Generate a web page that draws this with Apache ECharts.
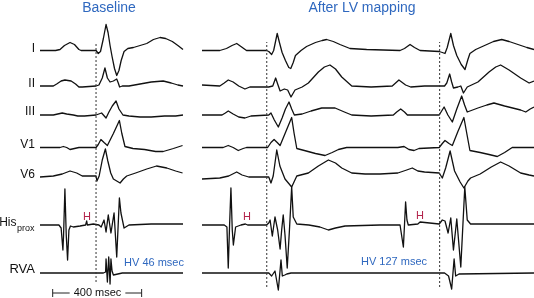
<!DOCTYPE html>
<html><head><meta charset="utf-8">
<script src="https://cdn.jsdelivr.net/npm/echarts@6/dist/echarts.min.js"></script>
<style>html,body{margin:0;padding:0;background:#fff}#c{width:534px;height:298px}</style>
</head><body><div id="c"></div>
<script>
// time in ms, amplitude in arbitrary units (1 unit ~ 1 px)
const leads = ['I','II','III','V1','V6','His','RVA'];

// Baseline panel (0..643 ms)
const baseI = [[0,0],[70,0],[90,1],[110,5],[135,8],[155,6],[175,1],[185,0],[252,0],[262,-3],[272,-1],[285,12],[297,26],[306,18],[315,5],[324,-6],[335,-18],[345,-25],[355,-20],[365,-10],[378,-1],[395,2],[420,3],[450,5],[480,7],[510,11],[540,13],[565,12],[595,9],[620,5],[643,1]];
const baseII = [[0,0],[60,0],[75,2],[95,5],[112,6],[140,5],[160,2],[175,-1],[190,-1],[252,0],[265,1],[280,8],[292,18],[303,8],[315,4],[330,5],[345,7],[352,3],[358,-1],[370,0],[400,0],[450,2],[500,4],[554,5],[590,3],[620,1],[643,0]];
const baseIII = [[0,0],[60,0],[80,1],[100,2],[120,1],[150,0],[170,-1],[200,-1],[252,0],[277,2],[297,-3],[310,3],[325,9],[342,14],[355,6],[373,0],[400,-1],[450,-2],[500,-2],[560,-1],[610,-1],[643,0]];
const baseV1 = [[0,0],[90,0],[105,1],[120,0],[135,-2],[155,-1],[175,0],[252,0],[262,3],[274,8],[288,5],[303,2],[330,14],[357,27],[368,14],[382,1],[418,-1],[470,-2],[520,-4],[554,-4],[600,-1],[641,2]];
const baseV6 = [[0,-1],[60,0],[100,2],[135,5],[165,3],[190,0],[252,0],[256,-5],[266,0],[280,16],[294,27],[305,15],[318,3],[330,-3],[360,-7],[375,-3],[390,0],[430,3],[480,7],[524,10],[570,8],[610,5],[641,3]];
const baseHis = [[0,0],[85,0],[95,-3],[103,-25],[106,-10],[112,36],[118,-10],[124,-35],[130,-5],[137,-1],[150,-2],[180,-1],[205,0],[210,4],[213,0],[240,1],[265,0],[275,-2],[288,5],[297,-7],[307,10],[319,-8],[333,12],[345,-32],[357,27],[364,12],[378,-3],[400,0],[500,1],[643,1]];
const baseRVA = [[0,0],[285,0],[295,1],[297,14],[303,-9],[309,16],[315,-11],[319,14],[324,2],[330,-2],[337,-4],[350,-1],[370,0],[643,0]];
const baseMarkers = [252];          // dotted line (QRS onset)
const baseHV = 'HV 46 msec';

// After LV mapping panel (0..1492 ms)
const lvI = [[0,0],[80,0],[110,2],[135,5],[156,7],[175,4],[200,0],[290,0],[300,-1],[313,-4],[322,0],[338,17],[348,8],[360,-2],[375,-10],[390,-17],[399,-18],[410,-12],[420,-5],[426,-3],[445,0],[470,4],[510,8],[540,10],[560,11],[590,9],[620,6],[665,2],[740,1],[890,0],[910,2],[935,6],[955,3],[980,0],[1066,-1],[1080,-2],[1092,-3],[1102,3],[1118,17],[1130,5],[1145,-5],[1165,-14],[1182,-19],[1195,-9],[1204,-3],[1230,1],[1270,5],[1310,9],[1347,11],[1380,9],[1420,6],[1460,3],[1492,1]];
const lvII = [[0,1],[80,0],[100,3],[118,6],[140,4],[165,0],[193,-3],[215,-1],[300,-1],[318,0],[331,8],[340,2],[351,-5],[370,-3],[385,-4],[400,-11],[418,-4],[450,-1],[478,3],[523,14],[550,19],[575,21],[600,17],[628,9],[673,0],[760,-1],[855,0],[870,3],[885,6],[915,1],[938,-1],[1000,0],[1090,0],[1100,3],[1113,12],[1122,4],[1130,-2],[1150,-1],[1163,0],[1175,-7],[1192,-1],[1240,4],[1290,14],[1320,19],[1342,21],[1380,16],[1432,8],[1470,3],[1492,5]];
const lvIII = [[0,0],[90,0],[105,2],[118,4],[140,1],[165,-2],[193,-3],[220,-1],[300,0],[310,2],[325,-5],[343,-12],[360,-3],[375,6],[391,13],[403,6],[415,0],[450,1],[490,4],[538,7],[598,7],[640,3],[673,0],[760,-1],[860,0],[875,3],[893,6],[910,3],[923,0],[1066,0],[1088,8],[1105,0],[1125,-7],[1145,6],[1167,19],[1180,10],[1192,3],[1240,7],[1280,10],[1312,12],[1360,9],[1432,5],[1455,3],[1475,6],[1492,8]];
const lvV1 = [[0,0],[95,0],[118,2],[140,0],[163,-3],[185,-1],[200,0],[295,0],[310,5],[324,8],[338,5],[351,2],[377,16],[403,30],[414,14],[426,-1],[460,-3],[510,-6],[553,-8],[585,-5],[613,-2],[650,0],[880,0],[908,1],[930,-2],[953,-3],[975,-1],[1066,0],[1080,4],[1092,7],[1110,4],[1125,2],[1150,16],[1177,30],[1190,14],[1204,-3],[1250,-5],[1290,-7],[1327,-9],[1360,-5],[1394,0],[1492,0]];
const lvV6 = [[0,-3],[80,-2],[120,0],[156,4],[180,1],[210,-1],[300,-1],[310,-7],[320,0],[336,26],[350,10],[373,-3],[403,-11],[426,0],[478,3],[523,10],[568,16],[600,13],[628,8],[673,3],[733,2],[800,2],[880,3],[920,6],[945,8],[970,5],[1000,4],[1066,3],[1080,-2],[1095,8],[1115,25],[1135,5],[1160,-6],[1177,-12],[1195,-5],[1207,-2],[1250,2],[1300,9],[1342,14],[1380,10],[1432,3],[1470,1],[1492,0]];
const lvHis = [[0,0],[100,0],[112,-2],[118,-43],[124,0],[130,37],[136,-5],[141,-20],[151,-2],[175,0],[195,1],[201,3],[205,0],[290,0],[300,2],[306,5],[316,-11],[328,8],[340,-5],[351,-24],[358,-5],[365,10],[373,-10],[383,-43],[393,-5],[403,38],[410,8],[426,1],[480,0],[530,-2],[568,-5],[600,-3],[643,-1],[800,0],[890,0],[905,-22],[910,0],[915,23],[921,5],[927,0],[970,1],[980,3],[985,1],[1066,1],[1080,5],[1092,4],[1106,-8],[1118,7],[1130,-25],[1145,6],[1163,-42],[1181,38],[1192,5],[1207,1],[1492,1]];
const lvRVA = [[0,0],[300,0],[313,-3],[328,2],[343,-17],[355,13],[361,-3],[372,-2],[381,-1],[400,0],[1090,0],[1108,-3],[1122,-16],[1133,14],[1140,-3],[1155,-1],[1163,0],[1492,0]];
const lvMarkers = [291, 1068];
const lvHV = 'HV 127 msec';

const scaleBar = [[57,0],[457,0]];   // 400 msec
const scaleLabel = '400 msec';

const panels = [
  {left:40, width:143, T:643, data:[baseI,baseII,baseIII,baseV1,baseV6,baseHis,baseRVA], markers:baseMarkers, dotBottom:282},
  {left:202, width:332, T:1492, data:[lvI,lvII,lvIII,lvV1,lvV6,lvHis,lvRVA], markers:lvMarkers, dotBottom:287}
];
const baselines = [50.5, 86, 115, 147.5, 176, 225, 273];
const labelY = [48.5, 83.5, 112, 145, 175, 222.5, 269.5];

const grids=[], xAxes=[], yAxes=[], series=[];
function addGrid(left,width,T,top,height,ymin,ymax){
  const i=grids.length;
  grids.push({left:left,width:width,top:top,height:height,containLabel:false});
  xAxes.push({gridIndex:i,type:'value',min:0,max:T,show:false});
  yAxes.push({gridIndex:i,type:'value',min:ymin,max:ymax,show:false});
  return i;
}
panels.forEach(p=>{
  p.data.forEach((d,k)=>{
    const b=baselines[k];
    const H=Math.floor(Math.min(50,b,298-b));
    const i=addGrid(p.left,p.width,p.T,b-H,2*H,-H,H);
    series.push({type:'line',xAxisIndex:i,yAxisIndex:i,data:d,symbol:'none',silent:true,animation:false,
      lineStyle:{color:'#111',width:1.3,join:'round'},clip:false});
  });
  const gi=addGrid(p.left,p.width,p.T,42,p.dotBottom-42,0,1);
  p.markers.forEach(m=>{
    series.push({type:'line',xAxisIndex:gi,yAxisIndex:gi,data:[[m,0],[m,1]],symbol:'none',silent:true,animation:false,
      lineStyle:{color:'#333',width:1,type:[2,2]}});
  });
});
const sg=addGrid(40,143,643,288,10,-1,1);
series.push({type:'line',xAxisIndex:sg,yAxisIndex:sg,data:scaleBar,symbol:'rect',symbolSize:[1,8],showSymbol:true,silent:true,animation:false,
  itemStyle:{color:'#222'},lineStyle:{color:'#222',width:1}});

const blue='#2f68bf', red='#b3234b';
const F='Liberation Sans, Arial, sans-serif';
const graphic=[
  {type:'text',x:109,y:8,z:100,style:{text:'Baseline',fill:blue,font:'14px '+F,textAlign:'center',textVerticalAlign:'middle'}},
  {type:'text',x:362,y:8,z:100,style:{text:'After LV mapping',fill:blue,font:'14px '+F,textAlign:'center',textVerticalAlign:'middle'}},
  {type:'text',x:154,y:262.5,z:100,style:{text:baseHV,fill:blue,font:'11px '+F,textAlign:'center',textVerticalAlign:'middle'}},
  {type:'text',x:394,y:262,z:100,style:{text:lvHV,fill:blue,font:'11px '+F,textAlign:'center',textVerticalAlign:'middle'}},
  {type:'text',x:87,y:216.5,z:100,style:{text:'H',fill:red,font:'11px '+F,textAlign:'center',textVerticalAlign:'middle'}},
  {type:'text',x:247,y:216.5,z:100,style:{text:'H',fill:red,font:'11px '+F,textAlign:'center',textVerticalAlign:'middle'}},
  {type:'text',x:420,y:216,z:100,style:{text:'H',fill:red,font:'11px '+F,textAlign:'center',textVerticalAlign:'middle'}},
  {type:'text',x:97.5,y:293,z:100,style:{text:scaleLabel,fill:'#111',font:'11px '+F,textAlign:'center',textVerticalAlign:'middle',backgroundColor:'#fff',padding:[0,4]}},
  {type:'text',x:16.5,y:222.5,z:100,style:{text:'His',fill:'#111',font:'12px '+F,textAlign:'right',textVerticalAlign:'middle'}},
  {type:'text',x:17,y:229,z:100,style:{text:'prox',fill:'#111',font:'9px '+F,textAlign:'left',textVerticalAlign:'middle'}}
];
['I','II','III','V1','V6'].forEach((t,k)=>{
  graphic.push({type:'text',x:35,y:labelY[k],z:100,style:{text:t,fill:'#111',font:'12px '+F,textAlign:'right',textVerticalAlign:'middle'}});
});
graphic.push({type:'text',x:35,y:labelY[6],z:100,style:{text:'RVA',fill:'#111',font:'13px '+F,textAlign:'right',textVerticalAlign:'middle'}});

const chart=echarts.init(document.getElementById('c'),null,{renderer:'canvas'});
chart.setOption({animation:false,backgroundColor:'#fff',grid:grids,xAxis:xAxes,yAxis:yAxes,series:series,graphic:graphic});
</script></body></html>
